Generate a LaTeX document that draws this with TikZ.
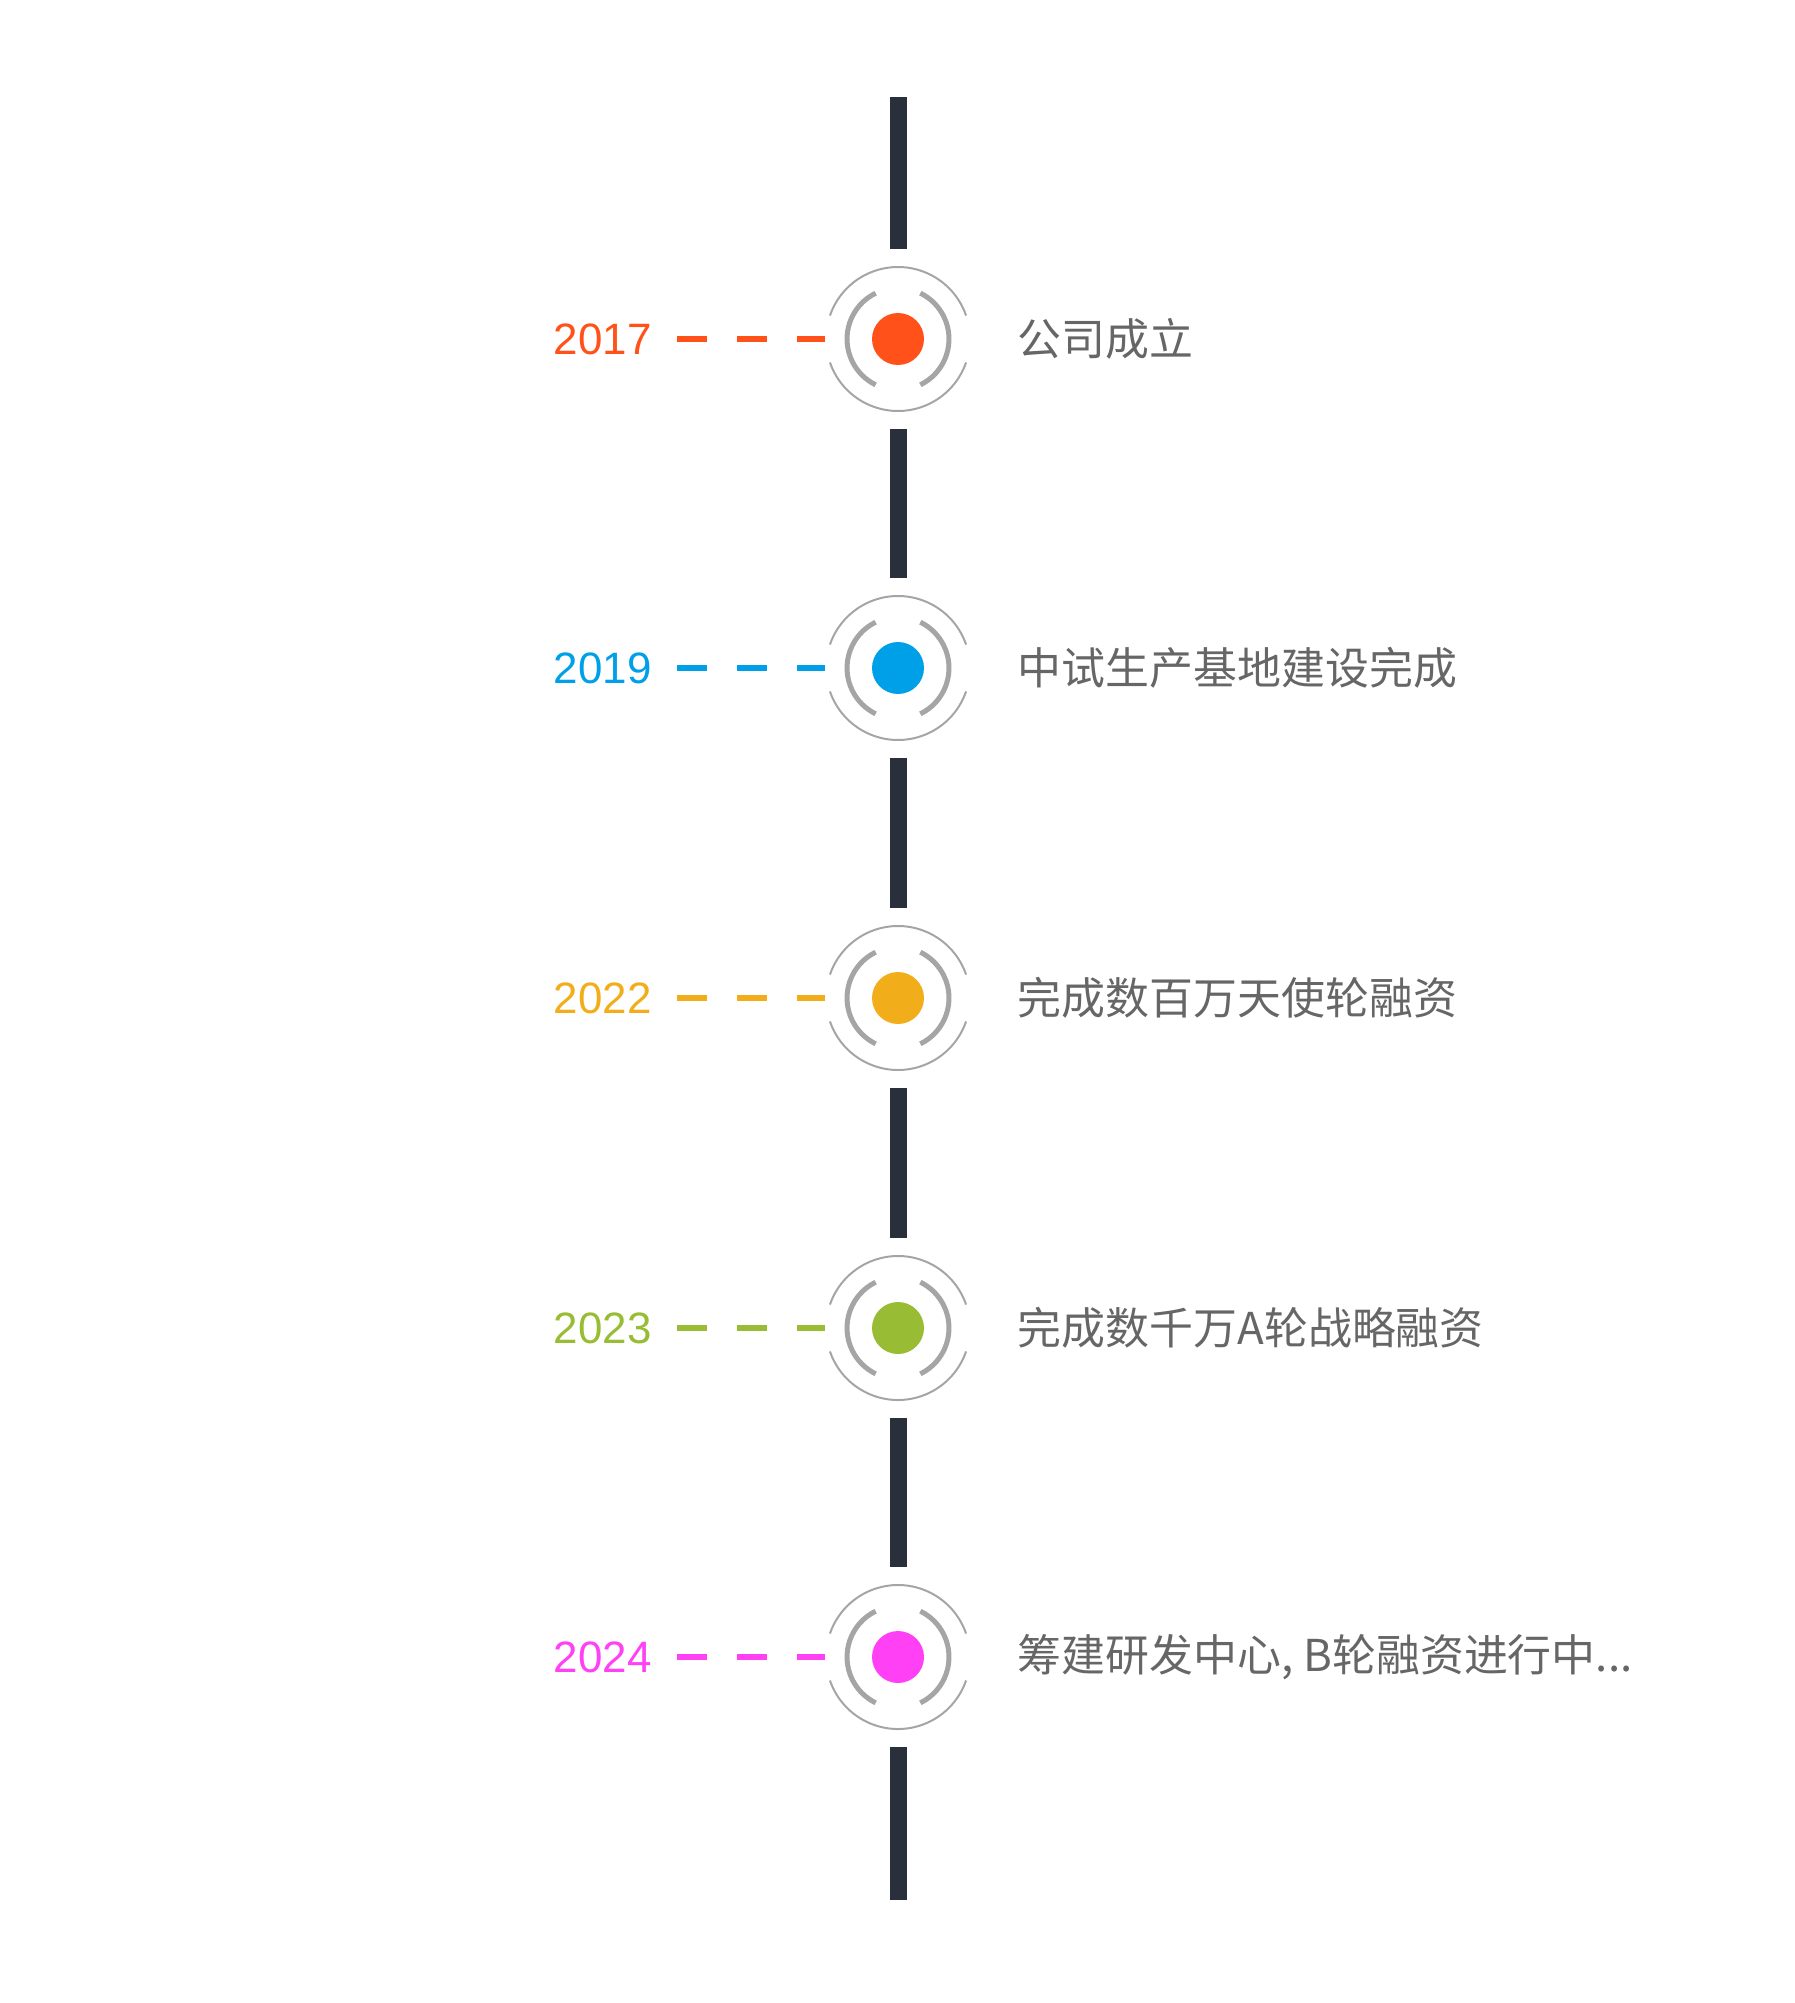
\documentclass[tikz,border=0pt]{standalone}
\usepackage{fontspec}
\setmainfont{Liberation Sans}
\newfontfamily\cjk{Noto Sans CJK SC}
\usepackage{tikz}
\usetikzlibrary{positioning}

\definecolor{c17}{HTML}{FF5119}
\definecolor{c19}{HTML}{00A0E9}
\definecolor{c22}{HTML}{F2AE1A}
\definecolor{c23}{HTML}{98BD34}
\definecolor{c24}{HTML}{FF40F5}
\definecolor{axis}{HTML}{29303C}
\definecolor{ringgray}{HTML}{A5A5A5}
\definecolor{txtgray}{HTML}{666666}

\begin{document}
\begin{tikzpicture}[x=0.02cm, y=0.02cm,
	ring/.style={circle, inner sep=0pt, outer sep=0pt, minimum size=2.94cm,
		path picture={
			\fill[#1] (path picture bounding box.center) circle[radius=0.52cm];
			\draw[ringgray, line width=0.1cm]
				(path picture bounding box.center) ++(-64:1.02cm) arc[start angle=-64, end angle=64, radius=1.02cm]
				(path picture bounding box.center) ++(116:1.02cm) arc[start angle=116, end angle=244, radius=1.02cm];
			\draw[ringgray, line width=0.04cm]
				(path picture bounding box.center) ++(19:1.44cm) arc[start angle=19, end angle=161, radius=1.44cm]
				(path picture bounding box.center) ++(199:1.44cm) arc[start angle=199, end angle=341, radius=1.44cm];
		}},
	year/.style={inner sep=0pt, font=\fontsize{25}{30}\selectfont},
	event/.style={inner sep=0pt, text=txtgray, font=\cjk\fontsize{25}{30}\selectfont},
	link/.style={line width=0.13cm, dash pattern=on 0.6cm off 0.6cm, shorten <=0.5cm},
	axisseg/.style={axis, line width=0.34cm, shorten <=0.33cm, shorten >=0.33cm}]

	\useasboundingbox (0,0) rectangle (1794,-2003);

	\node[ring=c17] (r1) at (898,-339) {};
	\node[ring=c19] (r2) at (898,-668) {};
	\node[ring=c22] (r3) at (898,-998) {};
	\node[ring=c23] (r4) at (898,-1328) {};
	\node[ring=c24] (r5) at (898,-1657) {};

	\coordinate (top) at (898,-97);
	\coordinate (bottom) at (898,-1900);

	\node[year, c17, left=3.45cm of r1] (y1) {2017};
	\node[year, c19, left=3.45cm of r2] (y2) {2019};
	\node[year, c22, left=3.45cm of r3] (y3) {2022};
	\node[year, c23, left=3.45cm of r4] (y4) {2023};
	\node[year, c24, left=3.45cm of r5] (y5) {2024};

	\node[event, right=0.92cm of r1] (e1) {公司成立};
	\node[event, right=0.92cm of r2] (e2) {中试生产基地建设完成};
	\node[event, right=0.92cm of r3] (e3) {完成数百万天使轮融资};
	\node[event, right=0.92cm of r4] (e4) {完成数千万A轮战略融资};
	\node[event, right=0.92cm of r5] (e5) {筹建研发中心, B轮融资进行中...};

	\draw[link, c17] (y1) -- (r1);
	\draw[link, c19] (y2) -- (r2);
	\draw[link, c22] (y3) -- (r3);
	\draw[link, c23] (y4) -- (r4);
	\draw[link, c24] (y5) -- (r5);

	\draw[axisseg, shorten <=0pt] (top) -- (r1.north);
	\draw[axisseg] (r1.south) -- (r2.north);
	\draw[axisseg] (r2.south) -- (r3.north);
	\draw[axisseg] (r3.south) -- (r4.north);
	\draw[axisseg] (r4.south) -- (r5.north);
	\draw[axisseg, shorten >=0pt] (r5.south) -- (bottom);
\end{tikzpicture}
\end{document}
